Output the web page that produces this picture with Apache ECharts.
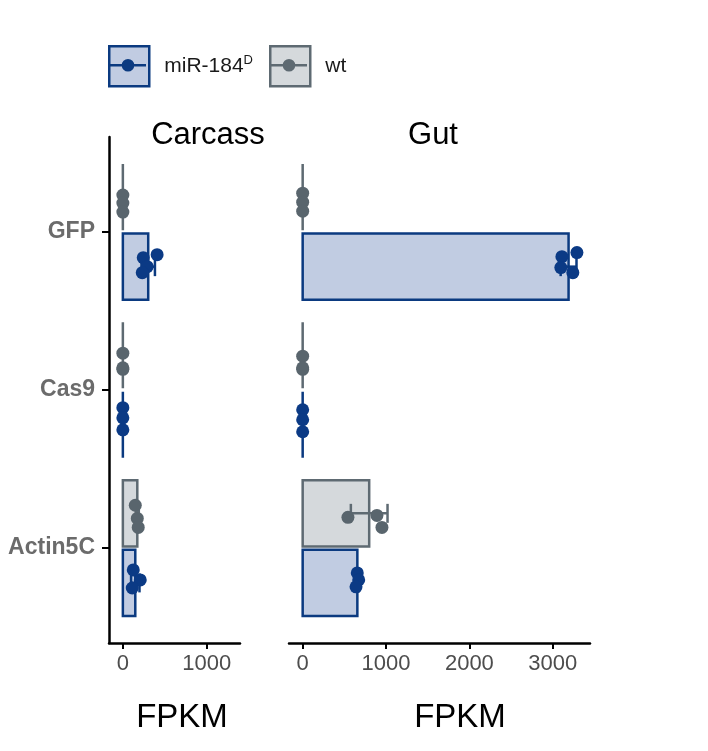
<!DOCTYPE html>
<html>
<head>
<meta charset="utf-8">
<script src="https://cdn.jsdelivr.net/npm/echarts@6/dist/echarts.min.js"></script>
<style>
html, body { margin: 0; padding: 0; background: #fff; }
#main { width: 708px; height: 751px; }
</style>
</head>
<body>
<div id="main"></div>
<script>
var genes = ['Actin5C', 'Cas9', 'GFP'];
var groups = ['miR-184D', 'wt'];
var tissues = ['Carcass', 'Gut'];
var xTicksCarcass = [0, 1000];
var xTicksGut = [0, 1000, 2000, 3000];

// mean FPKM (bar length), order follows genes
var carcassMir = [148, 0, 302];
var carcassWt = [172, 0, 0];
var gutMir = [656, 0, 3190];
var gutWt = [798, 0, 0];

// sd (error bar half length)
var carcassMirSd = [50, 0, 80];
var carcassWtSd = [18, 0, 0];
var gutMirSd = [16, 0, 95];
var gutWtSd = [220, 0, 0];

// replicates
var carcassMirPts = [[124, 207, 112], [0, 0, 0], [408, 243, 290, 231]];
var carcassWtPts = [[148, 172, 183], [0, 0, 0], [0, 0, 0]];
var gutMirPts = [[655, 672, 640], [0, 0, 0], [3110, 3290, 3097, 3241]];
var gutWtPts = [[543, 891, 951], [0, 0, 0], [0, 0, 0]];

// vertical jitter of replicates (category units, + is up)
var carcassMirJit = [[0.082, 0.019, -0.032], [0.108, 0.044, -0.032], [0.076, 0.057, 0, -0.038]];
var carcassWtJit = [[0.051, -0.032, -0.089], [0.013, -0.089, -0.08], [0.013, -0.038, -0.095]];
var gutMirJit = [[0.063, 0.019, -0.025], [0.095, 0.032, -0.044], [0.063, 0.089, -0.006, -0.038]];
var gutWtJit = [[-0.025, -0.013, -0.089], [-0.006, -0.089, -0.08], [0.025, -0.032, -0.089]];

var FONT = 'Liberation Sans';
var mirFill = '#c1cce2', mirLine = '#0b3a80', mirDot = '#0b3a85';
var wtFill = '#d5d9dc', wtLine = '#5e6a72', wtDot = '#59656d';
var DODGE = 0.22, HALF = 0.209, CAP = 0.06;

function barData(means, sds, shift) {
  return genes.map(function (g, i) { return [means[i], i + 1 + shift, sds[i]]; });
}
function pointData(pts, jit, shift) {
  var out = [];
  pts.forEach(function (arr, i) {
    arr.forEach(function (v, k) { out.push([v, i + 1 + shift + jit[i][k]]); });
  });
  return out;
}

function renderBar(fill, stroke) {
  return function (params, api) {
    var v = api.value(0), y = api.value(1), sd = api.value(2);
    var a = api.coord([0, y + HALF]), b = api.coord([v, y - HALF]);
    var kids = [{
      type: 'rect',
      shape: { x: a[0], y: a[1], width: b[0] - a[0], height: b[1] - a[1] },
      style: { fill: fill, stroke: stroke, lineWidth: 2.5 }
    }];
    if (sd > 0) {
      var l = api.coord([v - sd, y]), r = api.coord([v + sd, y]);
      var c = Math.abs(api.coord([0, y + CAP])[1] - l[1]);
      var st = { stroke: stroke, lineWidth: 2.5 };
      kids.push({ type: 'line', shape: { x1: l[0], y1: l[1], x2: r[0], y2: r[1] }, style: st });
      kids.push({ type: 'line', shape: { x1: l[0], y1: l[1] - c, x2: l[0], y2: l[1] + c }, style: st });
      kids.push({ type: 'line', shape: { x1: r[0], y1: r[1] - c, x2: r[0], y2: r[1] + c }, style: st });
    }
    return { type: 'group', children: kids };
  };
}

function yAxis(idx, show) {
  return {
    type: 'value', gridIndex: idx, min: 0.4, max: 3.6,
    show: show,
    axisLine: { show: true, onZero: false, lineStyle: { color: '#000', width: 2.5 } },
    axisTick: { show: true, customValues: [1, 2, 3], length: 7, lineStyle: { color: '#000', width: 2 } },
    axisLabel: {
      customValues: [1, 2, 3], margin: 14,
      formatter: function (v) { return genes[Math.round(v) - 1]; },
      fontFamily: FONT, fontWeight: 'bold', fontSize: 23, color: '#6b6b6b'
    },
    splitLine: { show: false }
  };
}

function xAxis(idx, min, max, ticks, pad) {
  return {
    type: 'value', gridIndex: idx, min: min, max: max,
    name: 'FPKM', nameLocation: 'middle', nameGap: 58,
    nameTextStyle: { fontFamily: FONT, fontSize: 33, color: '#000', padding: [0, 0, 0, pad] },
    axisLine: { show: true, onZero: false, lineStyle: { color: '#000', width: 2.5 } },
    axisTick: { show: true, customValues: ticks, length: 6, lineStyle: { color: '#000', width: 2 } },
    axisLabel: {
      customValues: ticks, margin: 10, fontFamily: FONT, fontSize: 22, color: '#4d4d4d',
      formatter: function (v) { return String(v); }
    },
    splitLine: { show: false }
  };
}

var dotIcon = 'path://M0,0L0.01,0L0,0.01Z M40,40L39.99,40L40,39.99Z ' +
  'M2,19L38,19L38,21.5L2,21.5Z M26.3,20.25A6.3,6.3 0 1 1 13.7,20.25A6.3,6.3 0 1 1 26.3,20.25Z';

function legendBox(name, left, fill, stroke) {
  return {
    left: left, top: 45, padding: 0, itemWidth: 40, itemHeight: 40, selectedMode: false,
    data: [{ name: name, icon: 'rect', itemStyle: { color: fill, borderColor: stroke, borderWidth: 2.5 } }],
    formatter: function (n) { return n === 'miR-184D' ? 'miR-184{sup|D}' : n; },
    textStyle: {
      fontFamily: FONT, fontSize: 21, color: '#1a1a1a', padding: [0, 0, 0, 10],
      rich: { sup: { fontFamily: FONT, fontSize: 13, color: '#1a1a1a', verticalAlign: 'top', padding: [0, 0, 12, 0] } }
    }
  };
}
function legendDot(name, left, color) {
  return {
    left: left, top: 45, padding: 0, itemWidth: 40, itemHeight: 40, selectedMode: false, z: 10,
    data: [{ name: name, icon: dotIcon, itemStyle: { color: color, borderWidth: 0 } }],
    formatter: function () { return ''; }
  };
}

var series = [];
[[0, carcassMir, carcassMirSd, carcassMirPts, carcassMirJit, carcassWt, carcassWtSd, carcassWtPts, carcassWtJit],
 [1, gutMir, gutMirSd, gutMirPts, gutMirJit, gutWt, gutWtSd, gutWtPts, gutWtJit]].forEach(function (p) {
  var i = p[0];
  series.push({
    name: groups[0], type: 'custom', xAxisIndex: i, yAxisIndex: i, z: 2,
    itemStyle: { color: mirFill, borderColor: mirLine },
    renderItem: renderBar(mirFill, mirLine), encode: { x: 0, y: 1 },
    data: barData(p[1], p[2], -DODGE)
  });
  series.push({
    name: groups[1], type: 'custom', xAxisIndex: i, yAxisIndex: i, z: 2,
    itemStyle: { color: wtFill, borderColor: wtLine },
    renderItem: renderBar(wtFill, wtLine), encode: { x: 0, y: 1 },
    data: barData(p[5], p[6], DODGE)
  });
  series.push({
    name: groups[0], type: 'scatter', xAxisIndex: i, yAxisIndex: i, z: 3,
    symbolSize: 13, itemStyle: { color: mirDot, opacity: 1 },
    data: pointData(p[3], p[4], -DODGE)
  });
  series.push({
    name: groups[1], type: 'scatter', xAxisIndex: i, yAxisIndex: i, z: 3,
    symbolSize: 13, itemStyle: { color: wtDot, opacity: 1 },
    data: pointData(p[7], p[8], DODGE)
  });
});

var chart = echarts.init(document.getElementById('main'));
chart.setOption({
  animation: false,
  backgroundColor: '#fff',
  legend: [
    legendBox('miR-184D', 108, mirFill, mirLine),
    legendDot('miR-184D', 108, mirLine),
    legendBox('wt', 269, wtFill, wtLine),
    legendDot('wt', 269, wtLine)
  ],
  grid: [
    { left: 109, top: 137, width: 131, height: 506 },
    { left: 289, top: 137, width: 301, height: 506 }
  ],
  xAxis: [
    xAxis(0, -165, 1395, xTicksCarcass, 15),
    xAxis(1, -164, 3447, xTicksGut, 41)
  ],
  yAxis: [yAxis(0, true), yAxis(1, false)],
  graphic: [
    { type: 'text', x: 208, y: 135, style: { text: tissues[0], fontFamily: FONT, fontSize: 31, fill: '#000', align: 'center', verticalAlign: 'middle' } },
    { type: 'text', x: 433, y: 135, style: { text: tissues[1], fontFamily: FONT, fontSize: 31, fill: '#000', align: 'center', verticalAlign: 'middle' } }
  ],
  series: series
});
</script>
</body>
</html>
